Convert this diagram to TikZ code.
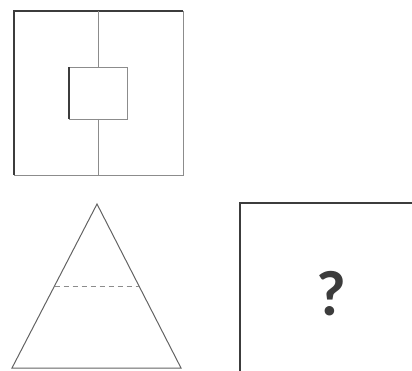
\documentclass[tikz,border=0pt]{standalone}
\usepackage{fontspec}
\setsansfont{Carlito}
\usepackage{tikz}
\usetikzlibrary{calc}
\definecolor{inkdark}{RGB}{60,60,60}
\definecolor{inklight}{RGB}{140,140,140}
\tikzset{
  darkline/.style={draw=inkdark, line width=1.6pt},
  lightline/.style={draw=inklight, line width=0.8pt},
  midline/.style={draw=inkdark!80, line width=1pt},
}

\begin{document}
\begin{tikzpicture}[x=1pt, y=-1pt]
  \useasboundingbox (0,0) rectangle (412,371);
  % upper figure
  \coordinate (otl) at (14,11);
  \coordinate (otr) at (183,11);
  \coordinate (obl) at (14,175);
  \coordinate (obr) at (183,175);
  \draw[lightline] (otr) -- (obr) -- (obl);
  \draw[darkline] (obl) -- (otl) -- (otr);
  \coordinate (itl) at (69,67);
  \coordinate (ibr) at (127,119);
  \draw[lightline] (itl) rectangle (ibr);
  \draw[darkline] (69,119) -- (itl);
  \draw[lightline] (98,11) -- (98,67);
  \draw[lightline] (98,119) -- (98,175);
  % triangle
  \coordinate (apex) at (97,204);
  \coordinate (bl) at (12,368);
  \coordinate (br) at (181,368);
  \draw[midline] (bl) -- (apex) -- (br) -- cycle;
  \draw[lightline, dash pattern=on 5pt off 4pt] ($(bl)!0.5!(apex)$) -- ($(br)!0.5!(apex)$);
  % answer box
  \draw[darkline] (240,380) -- (240,203) -- (420,203);
  \node[font=\sffamily\bfseries\fontsize{64}{68}\selectfont, text=inkdark] (ask) at (331,294) {?};
\end{tikzpicture}
\end{document}
